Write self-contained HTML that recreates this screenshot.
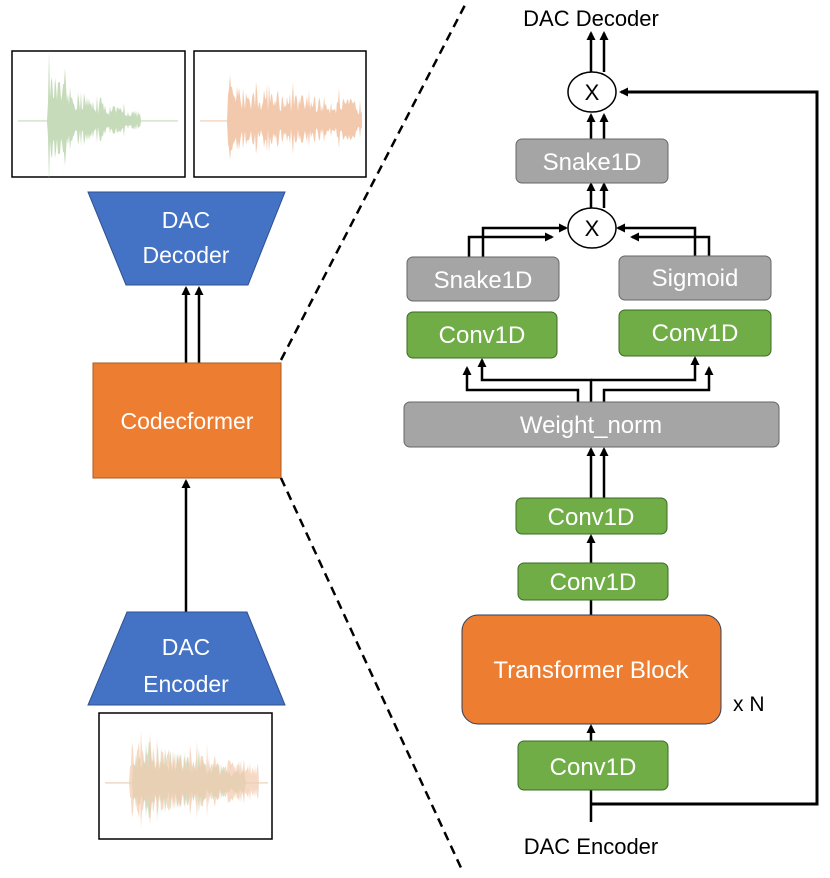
<!DOCTYPE html>
<html><head><meta charset="utf-8"><style>
html,body{margin:0;padding:0;background:#fff;}
svg text{font-family:"Liberation Sans",sans-serif;}
</style></head><body>
<svg width="830" height="873" viewBox="0 0 830 873" xmlns="http://www.w3.org/2000/svg">
<defs>
<marker id="ah" markerWidth="9" markerHeight="9" refX="7" refY="4.5" orient="auto" markerUnits="userSpaceOnUse" viewBox="0 0 9 9">
<path d="M0,0 L9,4.5 L0,9 z" fill="#000"/></marker>
</defs>
<rect x="12" y="51" width="173" height="126" fill="#fff" stroke="#000" stroke-width="1.5"/>
<rect x="194" y="51" width="172" height="126" fill="#fff" stroke="#000" stroke-width="1.5"/>
<rect x="99" y="713" width="173" height="126" fill="#fff" stroke="#000" stroke-width="1.5"/>
<g id="waves"></g>
<polygon points="88,192 285,192 248,285 126,285" fill="#4472c4" stroke="#2f528f"/>
<text x="186" y="228" fill="#fff" font-size="23" text-anchor="middle">DAC</text>
<text x="186" y="263" fill="#fff" font-size="23" text-anchor="middle">Decoder</text>
<line x1="186" y1="363" x2="186" y2="288" stroke="#000" stroke-width="2.5" marker-end="url(#ah)"/>
<line x1="199" y1="363" x2="199" y2="288" stroke="#000" stroke-width="2.5" marker-end="url(#ah)"/>
<rect x="93" y="363" width="188" height="115" fill="#ed7d31" stroke="#ae5a21"/>
<text x="187" y="429" fill="#fff" font-size="23" text-anchor="middle">Codecformer</text>
<line x1="186" y1="612" x2="186" y2="481" stroke="#000" stroke-width="2.5" marker-end="url(#ah)"/>
<polygon points="127,612 247,612 285,705 88,705" fill="#4472c4" stroke="#2f528f"/>
<text x="186" y="655" fill="#fff" font-size="23" text-anchor="middle">DAC</text>
<text x="186" y="692" fill="#fff" font-size="23" text-anchor="middle">Encoder</text>
<line x1="281" y1="360" x2="465" y2="5" stroke="#000" stroke-width="2.5" stroke-dasharray="9,6"/>
<line x1="281" y1="478" x2="462" y2="870" stroke="#000" stroke-width="2.5" stroke-dasharray="9,6"/>

<g stroke="#000" stroke-width="2.5" fill="none">
<line x1="591" y1="72" x2="591" y2="33" marker-end="url(#ah)"/>
<line x1="604" y1="72" x2="604" y2="33" marker-end="url(#ah)"/>
<line x1="591" y1="139" x2="591" y2="115" marker-end="url(#ah)"/>
<line x1="604" y1="139" x2="604" y2="115" marker-end="url(#ah)"/>
<line x1="591" y1="208" x2="591" y2="184" marker-end="url(#ah)"/>
<line x1="604" y1="208" x2="604" y2="184" marker-end="url(#ah)"/>
<polyline points="469,257 469,237 552,237" marker-end="url(#ah)"/>
<polyline points="483,257 483,228 566,228" marker-end="url(#ah)"/>
<polyline points="695,256 695,228 618,228" marker-end="url(#ah)"/>
<polyline points="709,256 709,237 632,237" marker-end="url(#ah)"/>
<polyline points="578,402 578,390 467,390 467,368" marker-end="url(#ah)"/>
<polyline points="591,402 591,380 482,380 482,360" marker-end="url(#ah)"/>
<polyline points="591,380 695,380 695,358" marker-end="url(#ah)"/>
<polyline points="604,402 604,390 709,390 709,368" marker-end="url(#ah)"/>
<line x1="591" y1="498" x2="591" y2="449" marker-end="url(#ah)"/>
<line x1="604" y1="498" x2="604" y2="449" marker-end="url(#ah)"/>
<line x1="591" y1="563" x2="591" y2="536" marker-end="url(#ah)"/>
<line x1="591" y1="615" x2="591" y2="600"/>
<line x1="591" y1="741" x2="591" y2="726" marker-end="url(#ah)"/>
<line x1="591" y1="790" x2="591" y2="822"/>
<polyline points="591,804 817,804 817,92 621,92" marker-end="url(#ah)" stroke-width="3"/>
</g>
<text x="591" y="26" font-size="22" text-anchor="middle">DAC Decoder</text>
<ellipse cx="592" cy="92" rx="24" ry="20" fill="#fff" stroke="#000" stroke-width="1.5"/>
<text x="592" y="100" font-size="22" text-anchor="middle">X</text>
<ellipse cx="592" cy="228" rx="24" ry="20" fill="#fff" stroke="#000" stroke-width="1.5"/>
<text x="592" y="236" font-size="22" text-anchor="middle">X</text>
<g stroke="#666" stroke-width="1">
<rect x="516" y="139" width="152" height="44" rx="6" fill="#a5a5a5"/>
<rect x="407" y="257" width="152" height="44" rx="6" fill="#a5a5a5"/>
<rect x="619" y="256" width="152" height="44" rx="6" fill="#a5a5a5"/>
<rect x="404" y="402" width="375" height="45" rx="6" fill="#a5a5a5"/>
</g>
<g stroke="#3a6b22" stroke-width="1">
<rect x="407" y="312" width="150" height="46" rx="6" fill="#70ad47"/>
<rect x="619" y="310" width="152" height="46" rx="6" fill="#70ad47"/>
<rect x="516" y="498" width="151" height="36" rx="6" fill="#70ad47"/>
<rect x="518" y="563" width="150" height="37" rx="6" fill="#70ad47"/>
<rect x="518" y="741" width="150" height="49" rx="6" fill="#70ad47"/>
</g>
<rect x="462" y="615" width="259" height="109" rx="16" fill="#ed7d31" stroke="#2f3e5a"/>
<g fill="#fff" font-size="24" text-anchor="middle">
<text x="592" y="170">Snake1D</text>
<text x="483" y="288">Snake1D</text>
<text x="695" y="286">Sigmoid</text>
<text x="482" y="343">Conv1D</text>
<text x="695" y="341">Conv1D</text>
<text x="591" y="433">Weight_norm</text>
<text x="591" y="525">Conv1D</text>
<text x="593" y="590">Conv1D</text>
<text x="591" y="678">Transformer Block</text>
<text x="593" y="775">Conv1D</text>
</g>
<text x="733" y="711" font-size="21">x N</text>
<text x="591" y="854" font-size="22" text-anchor="middle">DAC Encoder</text>
</svg>
<script>
(function(){
var g=document.getElementById('waves');var ns="http://www.w3.org/2000/svg";
var s=12345;function r(){s=(s*16807)%2147483647;return s/2147483647;}
function wave(x0,x1,cy,start,peak,end,color,op,dec){
 var top=[],bot=[];var n=Math.floor(x1-x0);
 for(var i=0;i<=n;i++){var x=x0+i;var a;
  if(x<start||x>end)a=0.6;else{var t=(x-start)/(end-start);a=peak*Math.exp(-dec*t)*(0.3+0.7*r());if(r()<0.1)a*=1.5;}
  top.push(x+","+(cy-a));bot.unshift(x+","+(cy+a*0.85));}
 var p=document.createElementNS(ns,"polygon");p.setAttribute("points",top.concat(bot).join(" "));
 p.setAttribute("fill",color);p.setAttribute("fill-opacity",op);g.appendChild(p);}
wave(18,178,121,48,50,140,"#c5dbb9",1,1.6);
wave(200,362,121,228,38,362,"#f2c9ad",1,0.6);
wave(105,268,783,133,50,245,"#c5dbb9",0.8,1.2);
wave(105,268,783,130,42,258,"#f2c9ad",0.7,0.6);
})();
</script>
</body></html>
